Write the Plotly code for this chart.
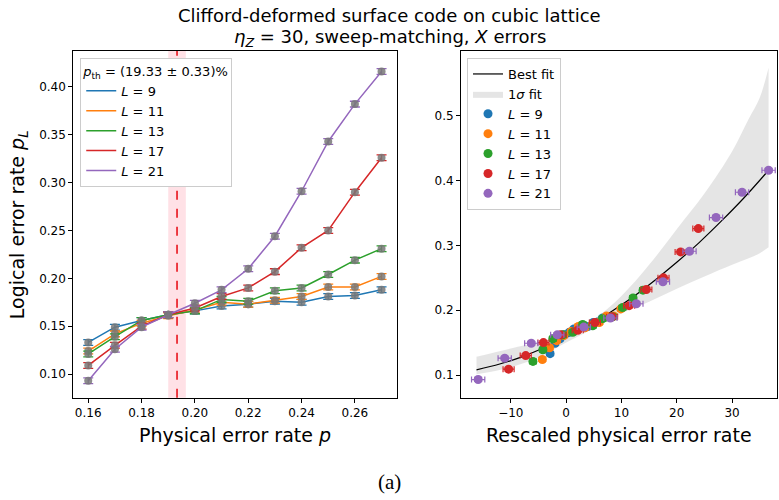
import plotly.graph_objects as go

# ---------------------------------------------------------------
# Data
# ---------------------------------------------------------------
P = [0.16, 0.17, 0.18, 0.19, 0.20, 0.21, 0.22, 0.23, 0.24, 0.25, 0.26, 0.27]

SIZES = [9, 11, 13, 17, 21]

PL_9 = [0.133, 0.149, 0.156, 0.162, 0.166, 0.171, 0.173, 0.176, 0.175, 0.181, 0.182, 0.188]
PL_11 = [0.124, 0.142, 0.153, 0.161, 0.167, 0.175, 0.173, 0.177, 0.181, 0.191, 0.191, 0.202]
PL_13 = [0.121, 0.139, 0.156, 0.162, 0.166, 0.178, 0.176, 0.187, 0.190, 0.204, 0.219, 0.231]
PL_17 = [0.109, 0.130, 0.150, 0.162, 0.169, 0.181, 0.190, 0.207, 0.232, 0.250, 0.290, 0.326]
PL_21 = [0.093, 0.126, 0.149, 0.162, 0.174, 0.188, 0.210, 0.244, 0.291, 0.343, 0.382, 0.416]

# rescaled physical error rate for each point (right panel)
X_9 = [-2.9, -2.0, -1.1, -0.3, 0.6, 1.4, 2.3, 3.2, 4.0, 4.9, 5.7, 6.6]
X_11 = [-4.3, -3.0, -1.7, -0.4, 0.9, 2.2, 3.4, 4.7, 6.0, 7.3, 8.6, 9.9]
X_13 = [-6.0, -4.2, -2.4, -0.6, 1.2, 3.0, 4.8, 6.6, 8.4, 10.2, 12.1, 13.9]
X_17 = [-10.4, -7.3, -4.1, -1.0, 2.1, 5.2, 8.3, 11.4, 14.5, 17.6, 20.7, 23.9]
X_21 = [-15.9, -11.1, -6.3, -1.6, 3.2, 8.0, 12.7, 17.5, 22.3, 27.1, 31.8, 36.6]

PL_ERR = 0.003                          # error bar half-height
X_ERR = [0.4, 0.5, 0.6, 1.0, 1.2]       # horizontal error per L

# best fit curve and 1 sigma band (right panel)
FIT_X = [-16.2, -12, -8, -4, 0, 4, 8, 12, 16, 20, 24, 28, 32, 36.6]
FIT_Y = [0.108, 0.117, 0.128, 0.142, 0.158, 0.176, 0.197, 0.220, 0.246, 0.274,
         0.304, 0.337, 0.372, 0.416]
BAND_X = [-16.2, -10, -5, 0, 5, 10, 15, 20, 25, 30, 33, 35, 36.6]
BAND_UP = [0.128, 0.141, 0.151, 0.163, 0.186, 0.222, 0.270, 0.325, 0.380, 0.445,
           0.495, 0.528, 0.574]
BAND_LO = [0.101, 0.112, 0.127, 0.150, 0.172, 0.195, 0.213, 0.233, 0.252, 0.270,
           0.280, 0.288, 0.297]

P_TH = 0.1933
P_TH_ERR = 0.0033

LEFT_XTICKS = [0.16, 0.18, 0.20, 0.22, 0.24, 0.26]
LEFT_YTICKS = [0.10, 0.15, 0.20, 0.25, 0.30, 0.35, 0.40]
RIGHT_XTICKS = [-10, 0, 10, 20, 30]
RIGHT_YTICKS = [0.1, 0.2, 0.3, 0.4, 0.5]

COLORS = ['#1f77b4', '#ff7f0e', '#2ca02c', '#d62728', '#9467bd']
FONT = 'DejaVu Sans'

pl_series = [PL_9, PL_11, PL_13, PL_17, PL_21]
x_series = [X_9, X_11, X_13, X_17, X_21]

fig = go.Figure()

# ---------------------------------------------------------------
# Left panel: p_L vs p
# ---------------------------------------------------------------
for L, pl, color in zip(SIZES, pl_series, COLORS):
    fig.add_trace(go.Scatter(
        x=P, y=pl, mode='lines',
        line=dict(color=color, width=1.5),
        name=f'<i>L</i> = {L}', legend='legend',
        xaxis='x', yaxis='y',
    ))
    fig.add_trace(go.Scatter(
        x=P, y=pl, mode='markers',
        marker=dict(size=8, color='rgba(120,120,120,0.85)'),
        error_y=dict(type='constant', value=PL_ERR, color=color,
                     thickness=1.3, width=5),
        showlegend=False, xaxis='x', yaxis='y',
    ))

# threshold band + dashed line
fig.add_shape(type='rect', xref='x', yref='y domain',
              x0=P_TH - P_TH_ERR, x1=P_TH + P_TH_ERR, y0=0, y1=1,
              fillcolor='rgba(255,20,60,0.13)', line_width=0, layer='below')
fig.add_shape(type='line', xref='x', yref='y domain',
              x0=P_TH, x1=P_TH, y0=0, y1=1,
              line=dict(color='#e8131b', width=1.6, dash='dash'))

# ---------------------------------------------------------------
# Right panel: data collapse
# ---------------------------------------------------------------
fig.add_trace(go.Scatter(
    x=BAND_X, y=BAND_LO, mode='lines', line=dict(width=0, shape='spline'),
    showlegend=False, hoverinfo='skip', xaxis='x2', yaxis='y2',
))
fig.add_trace(go.Scatter(
    x=BAND_X, y=BAND_UP, mode='lines', line=dict(width=0, shape='spline'),
    fill='tonexty', fillcolor='rgba(150,150,150,0.25)',
    name='1<i>σ</i> fit', legend='legend2', legendrank=2,
    xaxis='x2', yaxis='y2',
))
fig.add_trace(go.Scatter(
    x=FIT_X, y=FIT_Y, mode='lines',
    line=dict(color='black', width=1.2, shape='spline'),
    name='Best fit', legend='legend2', legendrank=1,
    xaxis='x2', yaxis='y2',
))
for i, (L, xs, pl, color) in enumerate(zip(SIZES, x_series, pl_series, COLORS)):
    fig.add_trace(go.Scatter(
        x=xs, y=pl, mode='markers',
        marker=dict(size=9, color=color),
        error_y=dict(type='constant', value=PL_ERR, color=color,
                     thickness=1.2, width=4),
        error_x=dict(type='constant', value=X_ERR[i], color=color,
                     thickness=1.2, width=3),
        name=f'<i>L</i> = {L}', legend='legend2', legendrank=3 + i,
        xaxis='x2', yaxis='y2',
    ))

axis_style = dict(showline=True, linecolor='black', linewidth=1, mirror=True,
                  ticks='outside', ticklen=4, tickcolor='black',
                  showgrid=False, zeroline=False,
                  tickfont=dict(family=FONT, size=12, color='black'))

legend_style = dict(bgcolor='white', bordercolor='#cccccc', borderwidth=1,
                    font=dict(family=FONT, size=13, color='black'),
                    xanchor='left', yanchor='top', tracegroupgap=0,
                    traceorder='normal', itemwidth=30)

fig.update_layout(
    width=779, height=500,
    margin=dict(l=0, r=0, t=0, b=0),
    paper_bgcolor='white', plot_bgcolor='white',
    font=dict(family=FONT, color='black'),
    xaxis=dict(domain=[0.0941, 0.510], range=[0.1544, 0.2759],
               tickvals=LEFT_XTICKS, tickformat='.2f', anchor='y', **axis_style),
    yaxis=dict(domain=[0.2046, 0.898], range=[0.0753, 0.4375],
               tickvals=LEFT_YTICKS, tickformat='.2f', anchor='x', **axis_style),
    xaxis2=dict(domain=[0.5918, 0.998], range=[-19.0, 38.2],
                tickvals=RIGHT_XTICKS, anchor='y2', **axis_style),
    yaxis2=dict(domain=[0.2046, 0.898], range=[0.065, 0.6],
                tickvals=RIGHT_YTICKS, tickformat='.1f', anchor='x2', **axis_style),
    legend=dict(x=0.103, y=0.884,
                title=dict(text='<i>p</i><sub>th</sub> = (19.33 ± 0.33)%',
                           font=dict(family=FONT, size=13)),
                **legend_style),
    legend2=dict(x=0.5995, y=0.884, **legend_style),
)

# titles and axis labels
texts = [
    ('Clifford-deformed surface code on cubic lattice', 0.5, 0.970, 18, 0),
    ('<i>η</i><sub><i>Z</i></sub> = 30, sweep-matching, <i>X</i> errors', 0.5, 0.924, 18, 0),
    ('Physical error rate <i>p</i>', 0.302, 0.130, 19, 0),
    ('Rescaled physical error rate', 0.795, 0.130, 19, 0),
    ('Logical error rate <i>p</i><sub><i>L</i></sub>', 0.024, 0.551, 19, -90),
]
for text, x, y, size, angle in texts:
    fig.add_annotation(text=text, x=x, y=y, xref='paper', yref='paper',
                       xanchor='center', yanchor='middle',
                       showarrow=False, textangle=angle,
                       font=dict(family=FONT, size=size, color='black'))

fig.add_annotation(text='(a)', x=0.5, y=0.036, xref='paper', yref='paper',
                   xanchor='center', yanchor='middle', showarrow=False,
                   font=dict(family='Liberation Serif', size=21, color='black'))

# drop the default page margin so the figure sits at the window corner
fig.write_html("out.html", config={'displayModeBar': False},
               post_script="document.body.style.margin='0';")
